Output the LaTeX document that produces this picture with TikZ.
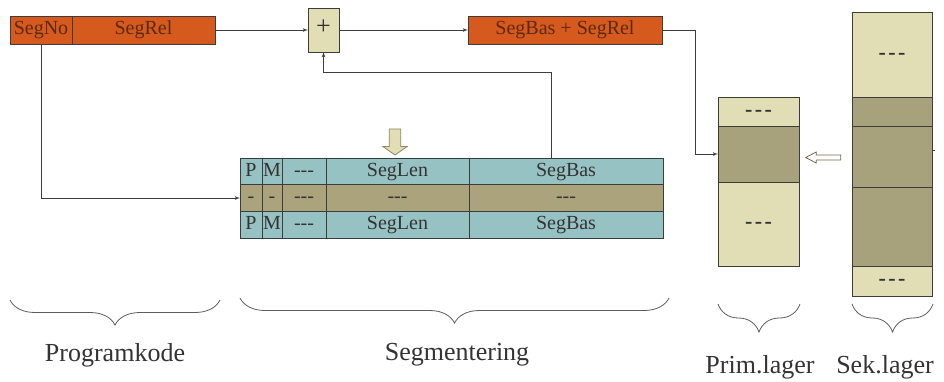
\documentclass[tikz,border=0pt]{standalone}
\usepackage{fontspec}
\setmainfont{Liberation Serif}
\usepackage{xcolor}
\usepackage{tikz}
\usetikzlibrary{arrows,positioning,shapes.arrows,decorations.pathreplacing,calc}

\definecolor{segorange}{HTML}{D65A1E}
\definecolor{segtext}{HTML}{5B2A12}
\definecolor{beige}{HTML}{E1DDB5}
\definecolor{darkolive}{HTML}{A8A27C}
\definecolor{tabteal}{HTML}{97C2C4}
\definecolor{tabolive}{HTML}{AAA37B}
\definecolor{linegray}{HTML}{3C3C3C}
\definecolor{textgray}{HTML}{333333}
\definecolor{arrowgray}{HTML}{8A8660}

\newcommand{\tripdash}{-{}-{}-}
\newcommand{\memdash}{{\fontsize{22}{22}\selectfont\textbf{-\hspace{2.5pt}-\hspace{2.5pt}-}}}

\begin{document}
\begin{tikzpicture}[x=1pt, y=-1pt, ->, >=latex', line width=0.8pt, color=linegray]
  % Define styles
  \tikzstyle{cell}=[rectangle, draw=linegray, outer sep=0pt, inner sep=0pt, text=textgray, font=\fontsize{20}{21}\selectfont, text height=13.5pt, text depth=4pt]
  \tikzstyle{regbox}=[cell, fill=segorange, text=segtext, minimum height=28]
  \tikzstyle{tcell}=[cell, minimum height=26.7]
  \tikzstyle{mem}=[cell, minimum width=81]
  \tikzstyle{smem}=[cell, minimum width=80]
  \tikzstyle{bracket}=[-, decorate, decoration={brace, mirror, amplitude=25pt}, line width=0.8pt, color=textgray!80]
  \tikzstyle{caption}=[text=textgray, font=\fontsize{26}{28}\selectfont]

  \useasboundingbox (0,0) rectangle (944,381);

  % Adresse
  \node[regbox, minimum width=62]                     (segno)  at (41,30)  {SegNo};
  \node[regbox, minimum width=143, right=0pt of segno] (segrel)             {SegRel};
  \node[cell, fill=beige, minimum width=31, minimum height=44, font=\fontsize{26}{26}\selectfont] (plus) at (323.5,30) {+};
  \node[regbox, minimum width=194]                    (sum)    at (565,30) {SegBas + SegRel};

  % Segmenttabell
  \foreach \r/\ypos/\col/\p/\m/\len/\bas in {1/171.3/tabteal/P/M/SegLen/SegBas,
      2/198/tabolive/-/-/\tripdash/\tripdash, 3/224.7/tabteal/P/M/SegLen/SegBas} {
    \node[tcell, fill=\col, minimum width=22]                   (p\r)   at (251,\ypos) {\p};
    \node[tcell, fill=\col, minimum width=20, right=0pt of p\r]  (m\r)   {\m};
    \node[tcell, fill=\col, minimum width=44, right=0pt of m\r]  (d\r)   {\tripdash};
    \node[tcell, fill=\col, minimum width=143, right=0pt of d\r] (len\r) {\len};
    \node[tcell, fill=\col, minimum width=194, right=0pt of len\r] (bas\r) {\bas};
  }

  % Prim.lager
  \node[mem, fill=beige, minimum height=29]                     (pr1) at (758.5,111.5) {\memdash};
  \node[mem, fill=darkolive, minimum height=56, below=0pt of pr1] (pr2) {};
  \node[mem, fill=beige, minimum height=84, below=0pt of pr2]     (pr3) {\memdash};

  % Sek.lager
  \node[smem, fill=beige, minimum height=85]                      (sk1) at (892,54.5) {\memdash};
  \node[smem, fill=darkolive, minimum height=29, below=0pt of sk1] (sk2) {};
  \node[smem, fill=darkolive, minimum height=61, below=0pt of sk2] (sk3) {};
  \node[smem, fill=darkolive, minimum height=79, below=0pt of sk3] (sk4) {};
  \node[smem, fill=beige, minimum height=30, below=0pt of sk4]     (sk5) {\memdash};

  % Blokkpiler
  \node[single arrow, draw=arrowgray, fill=beige, line width=0.8pt, inner sep=5pt,
        minimum width=24, minimum height=26, single arrow head extend=6pt,
        single arrow tip angle=110, shape border rotate=270] (lookup) at (395,140) {};
  \node[single arrow, draw=arrowgray!80!black, fill=white, line width=0.8pt, inner sep=2pt,
        minimum width=11, minimum height=35, single arrow head extend=3pt,
        single arrow tip angle=55, shape border rotate=180] (load) at (825.5,157.5) {};

  % Edges
  \coordinate (turn1) at (695,30);
  \coordinate (turn2) at (551,72);
  \draw (segrel) -- (plus);
  \draw (plus) -- (sum);
  \draw (sum) -- (turn1) |- (pr2);
  \draw (segno) |- (p2);
  \draw (turn2 |- bas1.north) -- (turn2) -| (plus);
  \draw[-] (sk3.east |- 0,150) -- ++(3,0);

  % Klammer og tekst
  \draw[bracket] (10,300) -- (220,300);
  \draw[bracket] (240,298) -- (669,298);
  \draw[bracket, decoration={amplitude=28pt}] (718,304) -- (800,304);
  \draw[bracket, decoration={amplitude=28pt}] (852,304) -- (933,304);
  \node[caption] (prog) at (115,355) {Programkode};
  \node[caption] (segm) at (457,355) {Segmentering};
  \node[caption] (prim) at (760,367) {Prim.lager};
  \node[caption] (sek)  at (885,367) {Sek.lager};
\end{tikzpicture}
\end{document}
